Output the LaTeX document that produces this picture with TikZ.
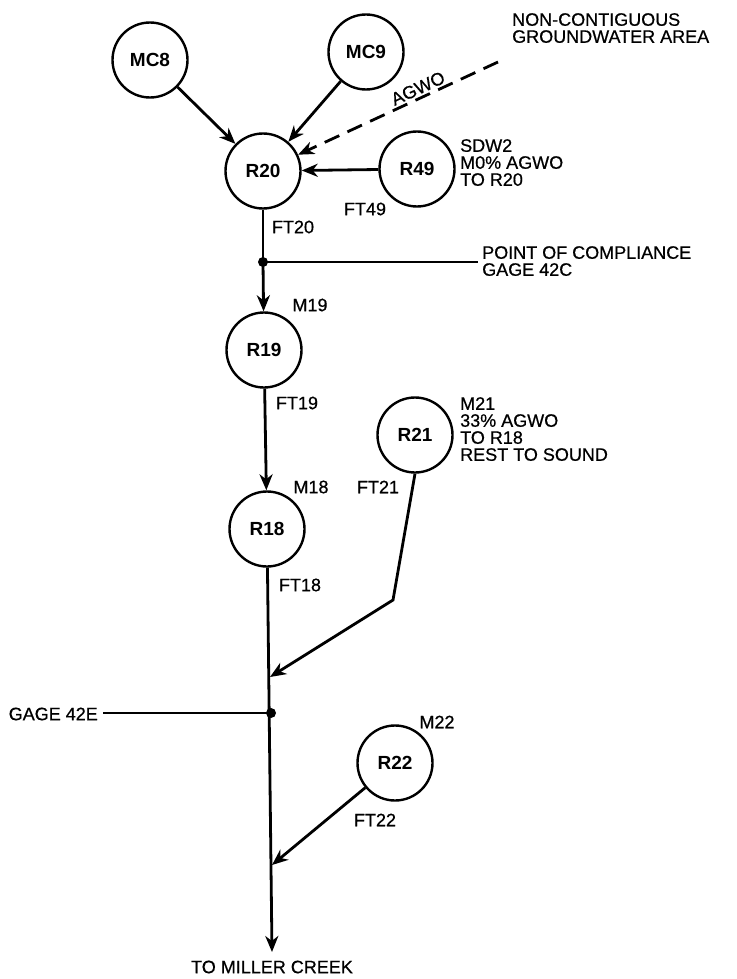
\documentclass[tikz,border=0pt]{standalone}
\usepackage{fontspec}
\setmainfont{Liberation Sans}
\newfontfamily\lblfont[FakeBold=0.6]{Liberation Sans}
\usetikzlibrary{arrows.meta}
\begin{document}
\begin{tikzpicture}[x=1pt,y=-1pt,
  res/.style={circle,draw,line width=2.4pt,minimum size=75pt,inner sep=0pt,font=\fontsize{19}{19}\selectfont\bfseries},
  lbl/.style={inner sep=0pt,font=\lblfont\fontsize{18}{17}\selectfont},
  blk/.style={lbl,align=left,anchor=north west},
  flow/.style={line width=2.8pt,-{Stealth[length=16pt,width=13pt,inset=5pt]}},
  wire/.style={line width=2.8pt},
  junc/.style={circle,fill,inner sep=0pt,minimum size=10pt}]
\useasboundingbox (0,0) rectangle (736,979);
% reaches
\node[res] (MC8) at (150,60) {MC8};
\node[res] (MC9) at (366,52) {MC9};
\node[res] (R20) at (263,171) {R20};
\node[res] (R49) at (417,169) {R49};
\node[res] (R19) at (264,350) {R19};
\node[res] (R21) at (415,435) {R21};
\node[res] (R18) at (267,529) {R18};
\node[res] (R22) at (395,763) {R22};
\node[junc] (P1) at (263,262) {};
\node[junc] (P2) at (271,713) {};
\coordinate (ncg) at (498,62);
\coordinate (pc) at (478,262);
\coordinate (g42e) at (103,713);
\coordinate (bend21) at (393,600);
\coordinate (in21) at (270,677);
\coordinate (in22) at (272,865);
\coordinate (creek) at (272,952);
% connectors
\draw[flow] (MC8) -- (R20);
\draw[flow] (MC9) -- (R20);
\draw[flow,dash pattern=on 16pt off 9pt] (ncg) -- node[pos=0.38,sloped,above=2pt,lbl]{AGWO} (R20);
\draw[flow] (R49) -- (R20);
\draw[wire] (R20) -- (P1.center);
\draw[flow] (P1.center) -- (R19);
\draw[wire] (P1.center) -- (pc);
\draw[flow] (R19) -- (R18);
\draw[flow] (R18) -- (creek);
\draw[wire] (g42e) -- (P2.center);
\draw[flow] (R21.south) -- (bend21) -- (in21);
\draw[flow] (R22) -- (in22);
% labels
\node[blk] (ncga) at (512,13) {NON-CONTIGUOUS\\GROUNDWATER AREA};
\node[blk] (sdw) at (460,139) {SDW2\\M0\% AGWO\\TO R20};
\node[lbl] (ft49) at (365,209) {FT49};
\node[lbl] (ft20) at (293,227) {FT20};
\node[blk] (poc) at (482,246) {POINT OF COMPLIANCE\\GAGE 42C};
\node[lbl] (m19) at (310,305) {M19};
\node[lbl] (ft19) at (297,403) {FT19};
\node[blk] (m21) at (460,397) {M21\\33\% AGWO\\TO R18\\REST TO SOUND};
\node[lbl] (m18) at (311,487) {M18};
\node[lbl] (ft21) at (378,487) {FT21};
\node[lbl] (ft18) at (300,585) {FT18};
\node[lbl,anchor=east] (g42el) at (98,714) {GAGE 42E};
\node[lbl] (m22) at (437,722) {M22};
\node[lbl] (ft22) at (375,820) {FT22};
\node[lbl] (creekl) at (272,967) {TO MILLER CREEK};
\end{tikzpicture}
\end{document}
